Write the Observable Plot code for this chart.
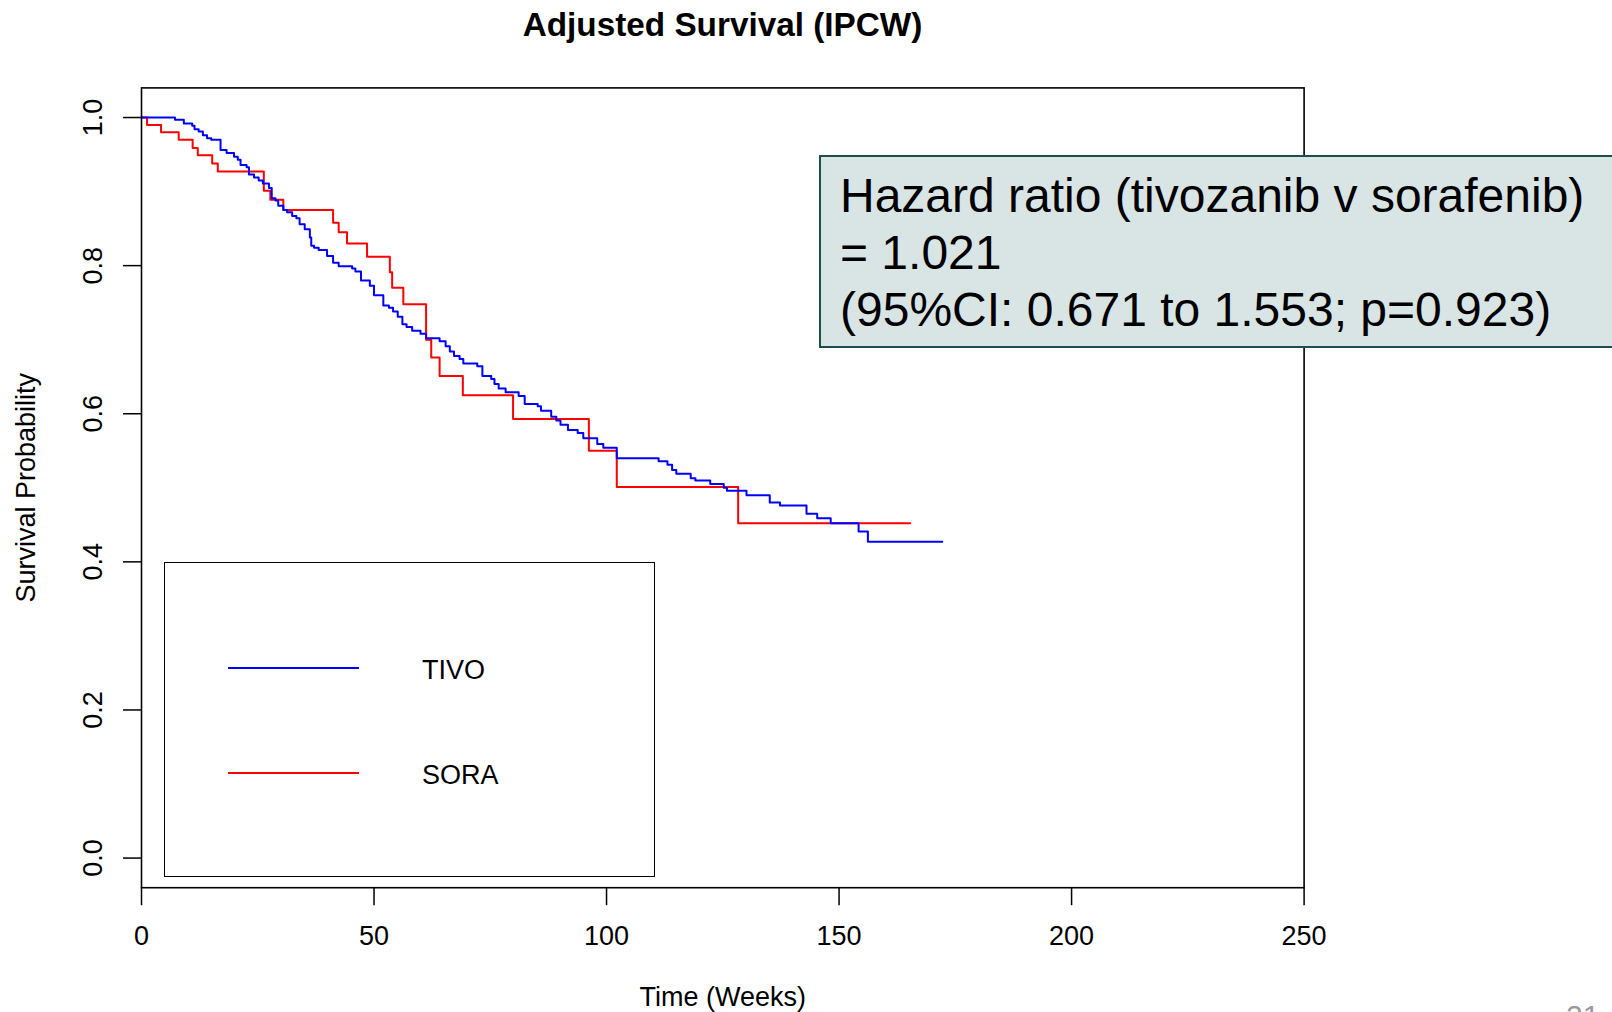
<!DOCTYPE html>
<html>
<head>
<meta charset="utf-8">
<script src="https://cdn.jsdelivr.net/npm/d3@7"></script>
<script src="https://cdn.jsdelivr.net/npm/@observablehq/plot@0.6"></script>
<style>
  html, body { margin: 0; padding: 0; background: #ffffff; width: 1612px; height: 1012px; overflow: hidden; }
  body { font-family: "Liberation Sans", Arial, sans-serif; color: #000; }
  #page { position: relative; width: 1612px; height: 1012px; overflow: hidden; }
  #title { position: absolute; left: 141px; top: 0; width: 1163px; height: 50px; line-height: 50px;
           font-size: 33.3px; font-weight: bold; text-align: center; }
  #chart { position: absolute; left: 0; top: 50px; width: 1612px; height: 962px; }
  #hr { position: absolute; left: 819px; top: 155px; width: 900px; height: 193px; box-sizing: border-box;
        background: #d9e5e5; border: 2px solid #1d4e50; padding: 10px 0 0 19px;
        font-size: 48px; line-height: 57px; white-space: pre; }
  #legend { position: absolute; left: 164px; top: 562px; width: 491px; height: 315px; box-sizing: border-box;
            border: 1.6px solid #000; }
  .lg-line { position: absolute; height: 2px; }
  .lg-label { position: absolute; font-size: 27px; line-height: 30px; }
  #slide { position: absolute; left: 1566px; top: 1001px; font-size: 30px; line-height: 30px; color: #9a9a9a; }
</style>
</head>
<body>
<div id="page">
  <div id="title"></div>
  <div id="chart"></div>
  <div id="legend"></div>
  <div id="hr"></div>
  <div id="slide">21</div>
</div>
<script>
// ---- data ----
const chartTitle = "Adjusted Survival (IPCW)";
const xTitle = "Time (Weeks)";
const yTitle = "Survival Probability";
const xTicks = [0, 50, 100, 150, 200, 250];
const yTicks = [0, 0.2, 0.4, 0.6, 0.8, 1.0];
const seriesNames = ["TIVO", "SORA"];
const seriesColors = ["#0000ff", "#ff0000"];
const hrLines = ["Hazard ratio (tivozanib v sorafenib)", "= 1.021", "(95%CI: 0.671 to 1.553; p=0.923)"];

const tivoTime = [0, 7.2, 9.1, 10.9, 11.4, 12.3, 13.2, 14.1, 15.0, 17.0, 18.3, 19.9, 20.7, 21.3, 22.6, 23.1, 24.2, 25.2, 26.1,
  27.4, 28.0, 28.8, 29.4, 30.5, 31.3, 32.4, 33.3, 34.0, 35.1, 36.2, 36.5, 37.1, 38.1, 39.9, 41.2, 42.4, 45.3, 46.0, 47.2,
  49.1, 50.0, 52.0, 53.2, 54.1, 55.1, 56.1, 57.0, 58.2, 60.0, 61.2, 64.1, 65.4, 66.3, 67.2, 68.4, 69.2, 72.2, 73.3, 75.2,
  75.9, 76.8, 78.3, 81.1, 82.4, 85.2, 85.9, 88.1, 89.2, 90.1, 91.7, 93.8, 95.0, 98.0, 99.3, 102.2, 111.2, 113.1, 114.1, 115.0,
  118.1, 119.1, 122.3, 125.2, 125.9, 130.1, 135.1, 137.3, 143.0, 145.3, 148.2, 154.2, 156.2, 172.2];
const tivoSurv = [1.000, 0.997, 0.992, 0.989, 0.984, 0.981, 0.976, 0.972, 0.970, 0.956, 0.952, 0.947, 0.943, 0.936, 0.933, 0.923, 0.919, 0.915, 0.911,
  0.905, 0.891, 0.888, 0.881, 0.875, 0.872, 0.867, 0.864, 0.856, 0.849, 0.838, 0.827, 0.824, 0.821, 0.813, 0.804, 0.799, 0.796, 0.792, 0.780,
  0.773, 0.760, 0.746, 0.743, 0.738, 0.731, 0.721, 0.717, 0.712, 0.708, 0.702, 0.698, 0.691, 0.684, 0.678, 0.674, 0.668, 0.664, 0.651, 0.647,
  0.640, 0.634, 0.629, 0.624, 0.613, 0.610, 0.604, 0.596, 0.591, 0.585, 0.578, 0.574, 0.567, 0.559, 0.554, 0.540, 0.536, 0.531, 0.524, 0.519,
  0.513, 0.510, 0.505, 0.500, 0.496, 0.490, 0.480, 0.476, 0.465, 0.459, 0.452, 0.441, 0.427, 0.427];

const soraTime = [0, 1.2, 4.2, 8.0, 11.0, 12.1, 15.2, 16.4, 26.3, 27.7, 30.5, 41.2, 42.4, 44.2, 48.5, 53.4, 53.9, 56.3,
  61.2, 62.3, 64.1, 69.1, 79.9, 96.2, 102.2, 128.3, 165.3];
const soraSurv = [1.000, 0.990, 0.980, 0.970, 0.959, 0.949, 0.938, 0.927, 0.901, 0.889, 0.875, 0.858, 0.845, 0.830, 0.812, 0.791, 0.770, 0.748,
  0.700, 0.676, 0.651, 0.625, 0.593, 0.550, 0.501, 0.452, 0.452];

// ---- tables ----
const tivo = tivoTime.map((t, i) => ({time: t, surv: tivoSurv[i]}));
const sora = soraTime.map((t, i) => ({time: t, surv: soraSurv[i]}));

const FONT = '"Liberation Sans", Arial, sans-serif';

const chart = Plot.plot({
  width: 1612,
  height: 962,
  marginLeft: 141,
  marginRight: 308.4,
  marginTop: 37.4,
  marginBottom: 124.8,
  style: {fontFamily: FONT, fontSize: "27px", background: "transparent", color: "#000", overflow: "visible"},
  x: {domain: [0, 250]},
  y: {domain: [-0.04, 1.04]},
  marks: [
    Plot.axisX({ticks: xTicks, tickSize: 18, tickPadding: 20, fontSize: 27, label: null, tickFormat: d => String(d), strokeWidth: 1.5}),
    Plot.axisY({ticks: yTicks, tickSize: 18, tickFormat: () => "", label: null, strokeWidth: 1.5}),
    Plot.text(yTicks, {y: d => d, text: d => d.toFixed(1), frameAnchor: "left", textAnchor: "middle", lineAnchor: "middle",
      dx: -48.5, rotate: -90, fontSize: 27}),
    Plot.text([yTitle], {text: d => d, frameAnchor: "left", textAnchor: "middle", lineAnchor: "middle",
      dx: -115.3, rotate: -90, fontSize: 27}),
    Plot.text([xTitle], {text: d => d, frameAnchor: "bottom", textAnchor: "middle", lineAnchor: "middle", dy: 110, fontSize: 27}),
    Plot.line(sora, {x: "time", y: "surv", curve: "step-after", stroke: seriesColors[1], strokeWidth: 2}),
    Plot.line(tivo, {x: "time", y: "surv", curve: "step-after", stroke: seriesColors[0], strokeWidth: 2}),
    Plot.frame({stroke: "#000", strokeWidth: 1.6})
  ]
});
document.getElementById("chart").appendChild(chart);
document.getElementById("title").textContent = chartTitle;
document.getElementById("hr").textContent = hrLines.join("\n");

// legend (inside the plot, lower left)
const legend = document.getElementById("legend");
const lgY = [105, 210];
seriesNames.forEach((name, i) => {
  const line = document.createElement("div");
  line.className = "lg-line";
  line.style.left = "63px";
  line.style.width = "131px";
  line.style.top = (lgY[i] - 1) + "px";
  line.style.background = seriesColors[i];
  legend.appendChild(line);
  const lab = document.createElement("div");
  lab.className = "lg-label";
  lab.style.left = "257px";
  lab.style.top = (lgY[i] - 13) + "px";
  lab.textContent = name;
  legend.appendChild(lab);
});
</script>
</body>
</html>
